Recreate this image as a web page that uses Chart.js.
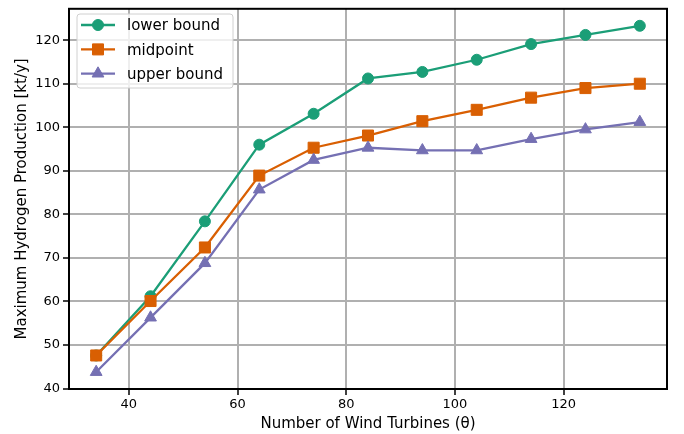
<!DOCTYPE html>
<html><head><meta charset="utf-8">
<script src="https://cdn.jsdelivr.net/npm/chart.js@4"></script>
<style>html,body{margin:0;padding:0;background:#fff;overflow:hidden}</style>
</head><body>
<canvas id="c" width="684" height="434"></canvas>
<script>
const turbines = [34, 44, 54, 64, 74, 84, 94, 104, 114, 124, 134];
const lowerBound = [47.6, 61.2, 78.4, 96.0, 103.1, 111.2, 112.7, 115.5, 119.1, 121.2, 123.3];
const midpoint = [47.6, 60.1, 72.4, 88.9, 95.3, 98.1, 101.4, 104.0, 106.8, 109.0, 110.0];
const upperBound = [43.8, 56.3, 68.8, 85.7, 92.5, 95.3, 94.7, 94.7, 97.3, 99.5, 101.2];
const seriesNames = ['lower bound', 'midpoint', 'upper bound'];
const xTicks = [40, 60, 80, 100, 120];
const yTicks = [40, 50, 60, 70, 80, 90, 100, 110, 120];
const xTitle = 'Number of Wind Turbines (\u03B8)';
const yTitle = 'Maximum Hydrogen Production [kt/y]';

const colors = ['#1b9e77', '#d95f02', '#7570b3'];
const styles = ['circle', 'rect', 'triangle'];
const radii = [5.5, 7.8, 6.8];

Chart.defaults.font.family = "'DejaVu Sans', sans-serif";
Chart.defaults.color = '#000';

function pts(ys) { return turbines.map((x, i) => ({x: x, y: ys[i]})); }
const allSeries = [lowerBound, midpoint, upperBound];

const datasets = allSeries.map((ys, i) => ({
  label: seriesNames[i],
  data: pts(ys),
  borderColor: colors[i],
  backgroundColor: colors[i],
  pointBackgroundColor: colors[i],
  pointBorderColor: colors[i],
  pointBorderWidth: 1,
  pointStyle: styles[i],
  pointRadius: radii[i],
  borderWidth: 2.3,
  tension: 0,
  fill: false,
  order: 3 - i
}));

const framePlugin = {
  id: 'frame',
  afterDatasetsDraw(chart) {
    const {ctx, chartArea: a} = chart;
    ctx.save();
    ctx.strokeStyle = '#000';
    ctx.lineWidth = 2;
    ctx.strokeRect(a.left, a.top, a.right - a.left, a.bottom - a.top);
    ctx.restore();
  }
};

function marker(ctx, style, x, y, r, color) {
  ctx.save();
  ctx.fillStyle = color;
  ctx.strokeStyle = color;
  ctx.lineWidth = 1;
  ctx.beginPath();
  if (style === 'circle') {
    ctx.arc(x, y, r, 0, Math.PI * 2);
  } else if (style === 'rect') {
    const s = r * Math.SQRT1_2;
    ctx.rect(x - s, y - s, 2 * s, 2 * s);
  } else {
    let rad = 0;
    ctx.moveTo(x + Math.sin(rad) * r, y - Math.cos(rad) * r);
    rad += 2 * Math.PI / 3;
    ctx.lineTo(x + Math.sin(rad) * r, y - Math.cos(rad) * r);
    rad += 2 * Math.PI / 3;
    ctx.lineTo(x + Math.sin(rad) * r, y - Math.cos(rad) * r);
    ctx.closePath();
  }
  ctx.fill();
  ctx.stroke();
  ctx.restore();
}

const legendPlugin = {
  id: 'customLegend',
  afterDraw(chart) {
    const ctx = chart.ctx;
    const L = 77, T = 14, R = 233, B = 88, rr = 3;
    ctx.save();
    ctx.beginPath();
    ctx.moveTo(L + rr, T);
    ctx.arcTo(R, T, R, B, rr);
    ctx.arcTo(R, B, L, B, rr);
    ctx.arcTo(L, B, L, T, rr);
    ctx.arcTo(L, T, R, T, rr);
    ctx.closePath();
    ctx.fillStyle = 'rgba(255,255,255,0.8)';
    ctx.fill();
    ctx.strokeStyle = '#d0d0d0';
    ctx.lineWidth = 1;
    ctx.stroke();
    const rows = [25, 49.4, 73.6];
    seriesNames.forEach((name, i) => {
      const y = rows[i];
      ctx.beginPath();
      ctx.strokeStyle = colors[i];
      ctx.lineWidth = 2.3;
      ctx.moveTo(81, y);
      ctx.lineTo(115, y);
      ctx.stroke();
      marker(ctx, styles[i], 98, y, radii[i], colors[i]);
      ctx.fillStyle = '#000';
      ctx.font = "15px 'DejaVu Sans', sans-serif";
      ctx.textBaseline = 'middle';
      ctx.textAlign = 'left';
      ctx.fillText(name, 127, y + 1.5);
    });
    ctx.restore();
  }
};

new Chart(document.getElementById('c'), {
  type: 'line',
  data: { datasets: datasets },
  options: {
    responsive: false,
    animation: false,
    devicePixelRatio: 1,
    layout: { padding: { left: 0, right: 17, top: 6, bottom: 0 } },
    plugins: { legend: { display: false }, tooltip: { enabled: false } },
    scales: {
      x: {
        type: 'linear',
        min: 29, max: 139,
        afterBuildTicks: s => { s.ticks = xTicks.map(v => ({value: v})); },
        afterFit: s => { s.height = 45; s.paddingLeft = 0; s.paddingRight = 0; },
        ticks: { font: { size: 13 }, color: '#000', padding: 2, maxRotation: 0 },
        grid: { color: '#b0b0b0', lineWidth: 2, tickColor: '#000', tickLength: 6, tickWidth: 1.5 },
        border: { display: false },
        title: { display: true, text: xTitle, font: { size: 15 }, color: '#000', padding: { top: 0, bottom: 1 } }
      },
      y: {
        type: 'linear',
        min: 39.9, max: 127.2,
        afterBuildTicks: s => { s.ticks = yTicks.map(v => ({value: v})); },
        afterFit: s => { s.width = 69; s.paddingTop = 0; s.paddingBottom = 0; },
        ticks: { font: { size: 13 }, color: '#000', padding: 3 },
        grid: { color: '#b0b0b0', lineWidth: 2, tickColor: '#000', tickLength: 6, tickWidth: 1.5 },
        border: { display: false },
        title: { display: true, text: yTitle, font: { size: 15 }, color: '#000', padding: { top: 13, bottom: 0 } }
      }
    }
  },
  plugins: [framePlugin, legendPlugin]
});
</script>
</body></html>
